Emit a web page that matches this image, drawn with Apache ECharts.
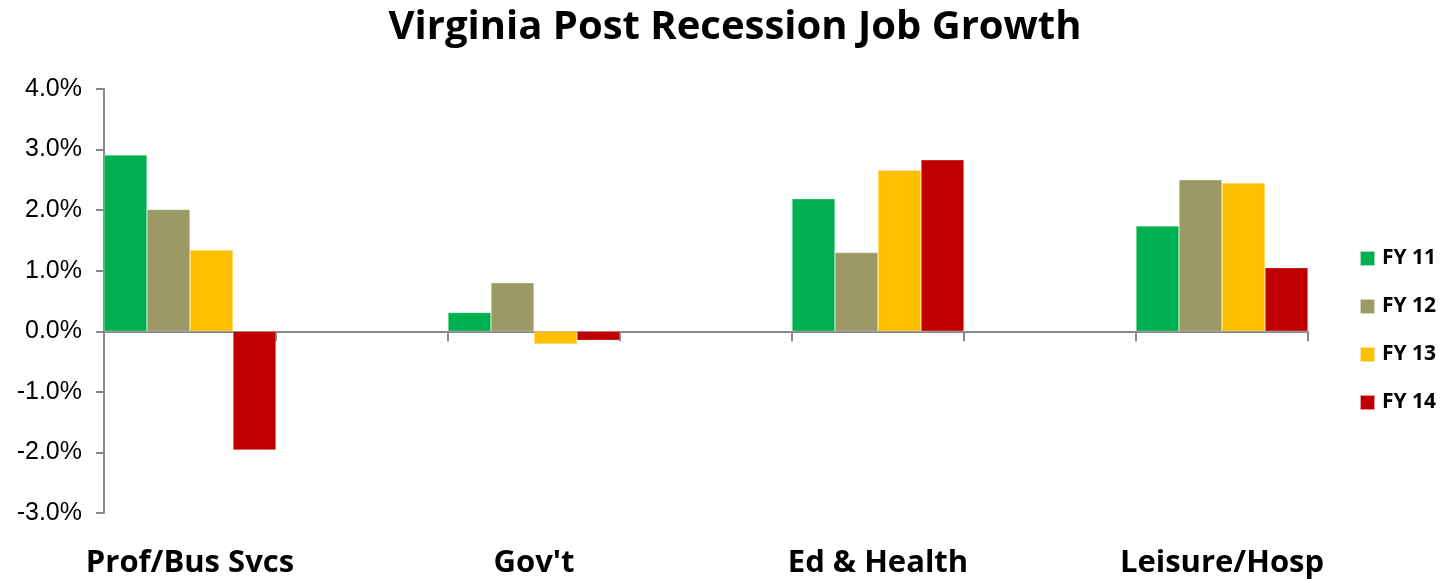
<!DOCTYPE html>
<html><head><meta charset="utf-8">
<script src="https://cdn.jsdelivr.net/npm/echarts@6/dist/echarts.min.js"></script>
<style>html,body{margin:0;padding:0;background:#fff}#c{width:1445px;height:579px}</style>
</head><body><div id="c"></div>
<script>
const categories = ['Prof/Bus Svcs', '', "Gov't", '', 'Ed & Health', '', 'Leisure/Hosp'];
const seriesNames = ['FY 11', 'FY 12', 'FY 13', 'FY 14'];
const fy11 = [2.91, null, 0.31, null, 2.19, null, 1.74];
const fy12 = [2.01, null, 0.80, null, 1.30, null, 2.50];
const fy13 = [1.34, null, -0.21, null, 2.66, null, 2.45];
const fy14 = [-1.96, null, -0.15, null, 2.83, null, 1.05];
const colors = ['#00B050', '#9B9964', '#FFC000', '#C00000'];

const chart = echarts.init(document.getElementById('c'));
const data = [fy11, fy12, fy13, fy14];
chart.setOption({
  animation: false,
  title: {
    text: 'Virginia Post Recession Job Growth',
    left: 730, textAlign: 'center', top: 3,
    textStyle: {fontFamily: 'Open Sans', fontWeight: 'bold', fontSize: 40, color: '#000'}
  },
  legend: {
    orient: 'vertical', left: 1354, top: 243,
    itemWidth: 15, itemHeight: 15, itemGap: 27,
    icon: 'rect',
    textStyle: {fontFamily: 'Open Sans', fontWeight: 'bold', fontSize: 21, color: '#000', padding: [0,0,0,2]},
    data: seriesNames
  },
  grid: {left: 104, right: 137, top: 89, bottom: 65, containLabel: false},
  xAxis: [{
    type: 'category', data: categories,
    axisLine: {onZero: true, lineStyle: {color: '#888', width: 2}},
    axisTick: {show: true, length: 10, lineStyle: {color: '#888', width: 2}},
    axisLabel: {show: false}
  }, {
    type: 'category', data: categories, position: 'bottom',
    axisLine: {show: false}, axisTick: {show: false},
    axisLabel: {show: true, margin: 35, interval: 0, fontFamily: 'Open Sans', fontWeight: 'bold', fontSize: 31, color: '#000'}
  }],
  yAxis: {
    type: 'value', min: -3, max: 4, interval: 1,
    axisLine: {show: true, lineStyle: {color: '#888', width: 2}},
    axisTick: {show: true, length: 8, lineStyle: {color: '#888', width: 2}},
    splitLine: {show: false},
    axisLabel: {formatter: v => v.toFixed(1) + '%', fontFamily: 'Liberation Sans', fontSize: 25, color: '#000', margin: 22}
  },
  series: seriesNames.map((n, i) => ({
    name: n, type: 'bar', data: data[i], xAxisIndex: 0,
    barGap: '0%', barCategoryGap: '0%',
    itemStyle: {color: colors[i], borderColor: 'rgba(255,255,255,0.6)', borderWidth: 0.5}
  }))
});
</script></body></html>
